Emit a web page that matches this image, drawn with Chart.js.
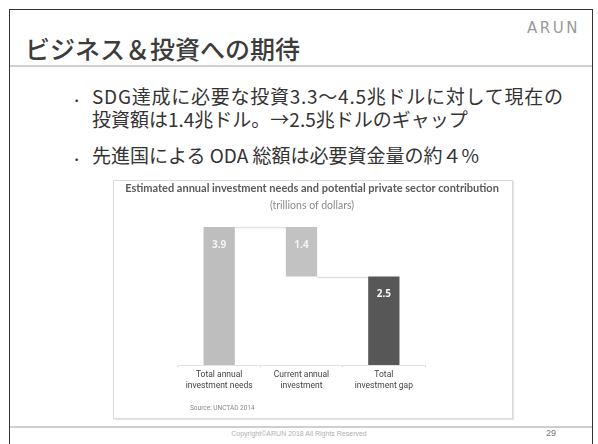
<!DOCTYPE html>
<html>
<head>
<meta charset="utf-8">
<script src="https://cdn.jsdelivr.net/npm/chart.js@4.4.1/dist/chart.umd.min.js"></script>
<style>
  html, body { margin: 0; padding: 0; background: #fff; }
  body { width: 598px; height: 444px; position: relative; overflow: hidden; font-family: "Noto Sans CJK JP", "Noto Sans", sans-serif; }
  .frame { position: absolute; left: 9px; top: 9px; width: 582px; height: 460px; border: 1px solid #333; border-bottom: none; }
  .title { position: absolute; left: 25px; top: 30px; font-size: 25px; font-weight: 500; color: #3c3c3c; line-height: 36px; white-space: nowrap; }
  .logo { position: absolute; left: 527px; top: 19px; font-family: "DejaVu Sans", sans-serif; font-size: 15px; letter-spacing: 2.5px; color: #9a9a9a; }
  .rule { position: absolute; left: 10px; width: 582px; height: 2px; background: #cfcfcf; }
  .bullet { position: absolute; left: 92px; font-size: 19px; line-height: 23px; color: #333; white-space: nowrap; }
  .dot { position: absolute; left: 74px; font-size: 19px; line-height: 23px; color: #333; }
  .box { position: absolute; left: 113px; top: 180px; width: 398px; height: 237px; border: 1px solid #dadada; box-shadow: 1px 1px 1px #e6e6e6; }
  .box canvas { position: absolute; left: 0; top: 0; }
  .chart-title { position: absolute; left: 0; width: 396px; text-align: center; font-family: Lato, sans-serif; white-space: nowrap; }
  .source { position: absolute; left: 76px; top: 223px; font-family: "Roboto", sans-serif; font-size: 6.5px; color: #888; }
  .footer { position: absolute; top: 430px; left: 0; width: 598px; text-align: center; font-family: "Liberation Sans", sans-serif; font-size: 7px; color: #b0b0b0; }
  .page { position: absolute; left: 546px; top: 428px; font-family: "Liberation Sans", sans-serif; font-size: 9px; color: #777; }
</style>
</head>
<body>
<div class="frame"></div>
<div class="title">ビジネス＆投資への期待</div>
<div class="logo">ARUN</div>
<div class="rule" style="top:65px"></div>

<div class="dot" style="top:82px">.</div>
<div class="bullet" style="top:84px; letter-spacing:0.75px">SDG達成に必要な投資3.3〜4.5兆ドルに対して現在の</div>
<div class="bullet" style="top:107px">投資額は1.4兆ドル。→2.5兆ドルのギャップ</div>
<div class="dot" style="top:141px">.</div>
<div class="bullet" style="top:143px">先進国による ODA 総額は必要資金量の約４%</div>

<div class="box">
  <canvas id="grafico" width="398" height="237"></canvas>
  <div class="chart-title" style="top:0px; font-size:11px; font-weight:bold; color:#5a5a5a">Estimated annual investment needs and potential private sector contribution</div>
  <div class="chart-title" style="top:18px; font-size:10.5px; color:#8a8a8a">(trillions of dollars)</div>
  <div class="source">Source: UNCTAD 2014</div>
</div>

<div class="rule" style="top:426px"></div>
<div class="footer">Copyright©ARUN 2018 All Rights Reserved</div>
<div class="page">29</div>

<script>
// categorias y valores (billones de dólares)
const categorias = [['Total annual', 'investment needs'], ['Current annual', 'investment'], ['Total', 'investment gap']];
const valores = [3.9, 1.4, 2.5];
const inicioBarra = [0, 2.5, 0];
const finBarra = [3.9, 3.9, 2.5];
const colores = ['#bebebe', '#c2c2c2', '#575757'];

// etiquetas blancas dentro de cada barra + líneas conectoras de la cascada
const extrasCascada = {
    id: 'extrasCascada',
    beforeDatasetsDraw(chart) {
        const { ctx } = chart;
        const barras = chart.getDatasetMeta(0).data;
        const y = chart.scales.y;
        ctx.save();
        ctx.strokeStyle = '#e3e3e3';
        ctx.lineWidth = 1.5;
        for (let i = 0; i < barras.length - 1; i++) {
            const nivel = i === 0 ? finBarra[0] : inicioBarra[1];
            const py = Math.round(y.getPixelForValue(nivel)) + 0.5;
            ctx.beginPath();
            ctx.moveTo(barras[i].x + barras[i].width / 2, py);
            ctx.lineTo(barras[i + 1].x - barras[i + 1].width / 2, py);
            ctx.stroke();
        }
        ctx.restore();
    },
    afterDatasetsDraw(chart) {
        const { ctx } = chart;
        const barras = chart.getDatasetMeta(0).data;
        ctx.save();
        ctx.fillStyle = '#f4f4f4';
        ctx.font = 'bold 10px "Open Sans", sans-serif';
        ctx.textAlign = 'center';
        ctx.textBaseline = 'middle';
        barras.forEach((b, i) => {
            ctx.fillText(valores[i].toFixed(1), b.x, b.y + 18);
        });
        ctx.restore();
    }
};

const ctx = document.getElementById('grafico').getContext('2d');
new Chart(ctx, {
    type: 'bar',
    data: {
        labels: categorias,
        datasets: [{
            data: inicioBarra.map((v, i) => [v, finBarra[i]]),
            backgroundColor: colores,
            borderWidth: 0,
            barPercentage: 0.38,
            categoryPercentage: 1
        }]
    },
    options: {
        responsive: false,
        animation: false,
        layout: { padding: { left: 64, right: 87, top: 46, bottom: 24 } },
        scales: {
            y: { display: false, min: 0, max: 3.9 },
            x: {
                grid: { display: true, drawOnChartArea: false, drawTicks: true, tickLength: 2, color: '#cfcfcf', offset: true },
                border: { display: true, color: '#e2e2e2', width: 1 },
                ticks: {
                    color: '#444',
                    padding: 2,
                    autoSkip: false,
                    maxRotation: 0,
                    minRotation: 0,
                    font: { family: 'Roboto, sans-serif', size: 8.5, lineHeight: 1.35 }
                }
            }
        },
        plugins: {
            legend: { display: false },
            tooltip: { enabled: false }
        }
    },
    plugins: [extrasCascada]
});
</script>
</body>
</html>
